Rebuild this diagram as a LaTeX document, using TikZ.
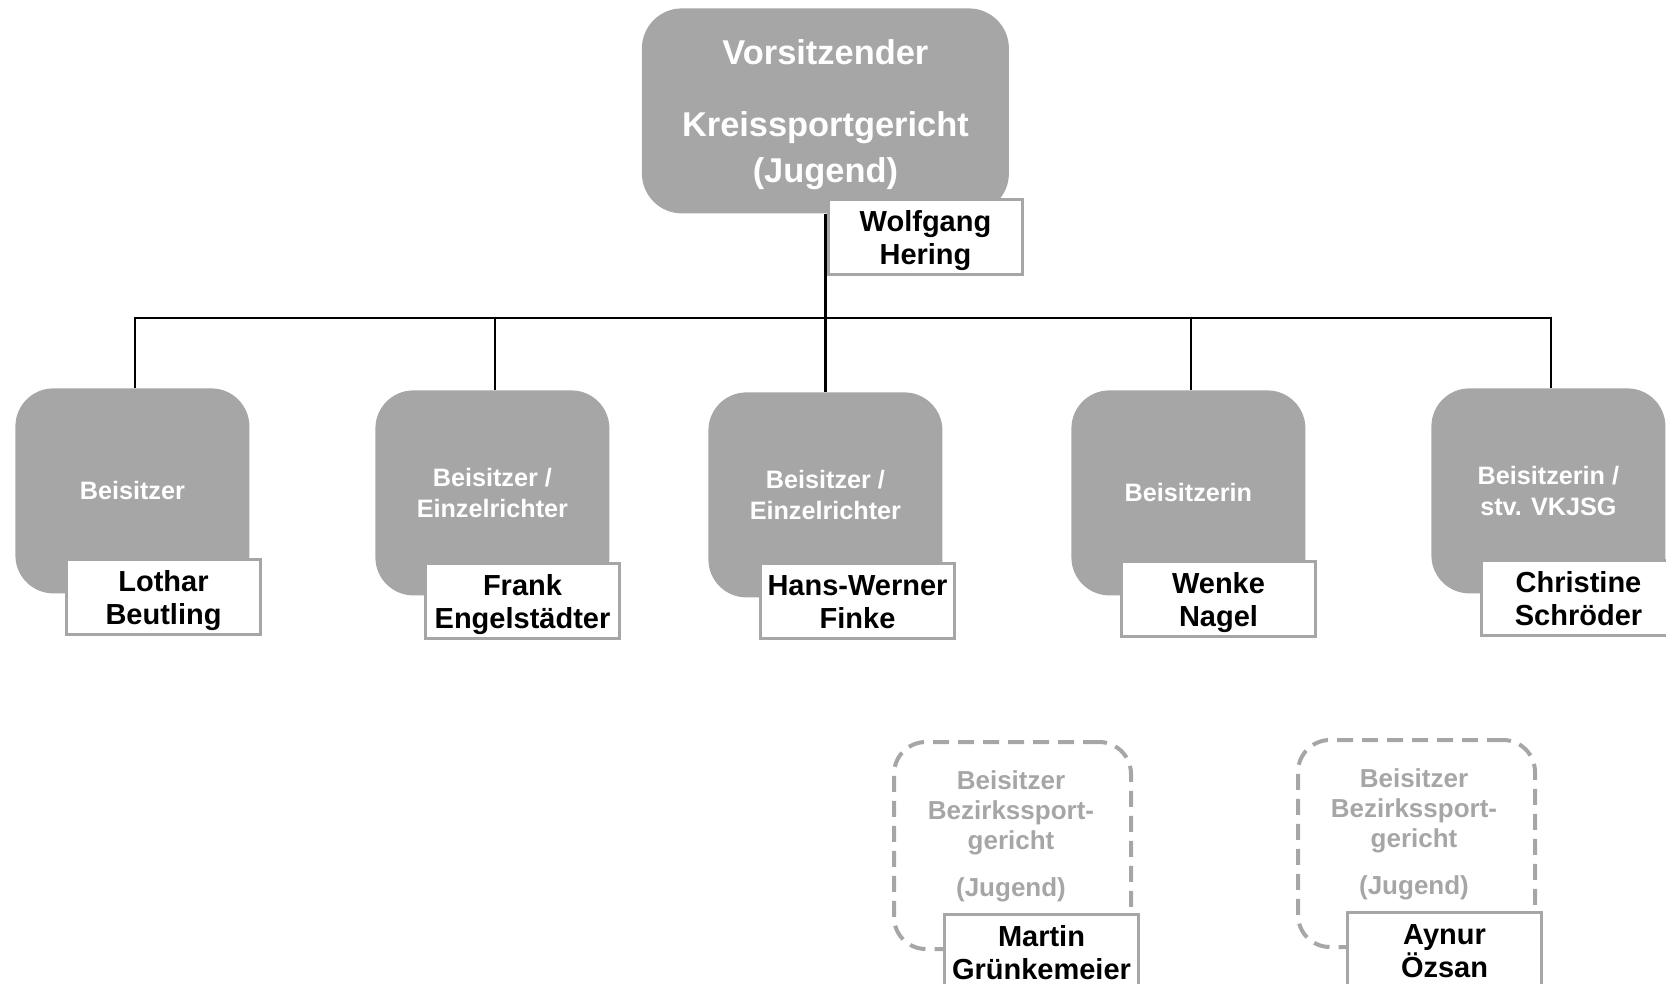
\documentclass[tikz,border=0pt]{standalone}
\usepackage{fontspec}
\setmainfont{Liberation Sans}
\definecolor{boxgray}{HTML}{A6A6A6}
\begin{document}
\begin{tikzpicture}[x=0.5pt,y=-0.5pt,
  topbox/.style={fill=boxgray, rounded corners=20pt, anchor=north west, inner sep=0pt,
    text=white, align=center, minimum width=183.5pt, minimum height=102.5pt,
    font=\bfseries\fontsize{17.2}{23}\selectfont,
    text height=71.7pt, text depth=0pt},
  rolebox/.style={fill=boxgray, rounded corners=19pt, anchor=north west, inner sep=0pt,
    text=white, align=center, minimum width=117pt, minimum height=102.5pt,
    font=\bfseries\fontsize{12.6}{15.5}\selectfont},
  namebox/.style={fill=white, draw=boxgray, line width=1.5pt, anchor=north west, inner sep=0pt,
    text=black, align=center, minimum width=97pt, minimum height=37.5pt,
    font=\bfseries\fontsize{14.5}{16.5}\selectfont,
    text height=27.3pt, text depth=0pt},
  extbox/.style={draw=boxgray, line width=2pt, dash pattern=on 8pt off 4.5pt, rounded corners=16pt,
    anchor=north west, inner sep=0pt, minimum width=118.5pt, minimum height=103.5pt},
  exttext/.style={text=boxgray, align=center, inner sep=0pt,
    font=\bfseries\fontsize{13}{15}\selectfont},
  conn/.style={draw=black, line width=1.25pt}]
\useasboundingbox (0,0) rectangle (1666,984);

% top
\node[topbox] (top) at (641.5,8) {Vorsitzender\\[13pt]Kreissportgericht\\(Jugend)};

% role boxes
\node[rolebox] (b1) at (15,388) {Beisitzer};
\node[rolebox] (b2) at (375,390) {Beisitzer /\\Einzelrichter};
\node[rolebox] (b3) at (708,392) {Beisitzer /\\Einzelrichter};
\node[rolebox] (b4) at (1071,390) {Beisitzerin};
\node[rolebox] (b5) at (1431,388) {Beisitzerin /\\stv. VKJSG};

% connectors
\coordinate (bus) at (0,318);
\draw[conn] (top.south) -- (top.south |- b3.north);
\draw[conn] ([xshift=1.2pt]b1.north) -- ([xshift=1.2pt]b1.north |- bus) -- ([xshift=1.2pt]b5.north |- bus) -- ([xshift=1.2pt]b5.north);
\draw[conn] ([xshift=1.2pt]b2.north) -- ([xshift=1.2pt]b2.north |- bus);
\draw[conn] ([xshift=1.2pt]b4.north) -- ([xshift=1.2pt]b4.north |- bus);

% name labels
\node[namebox] (n0) at (827,198) {Wolfgang\\Hering};
\node[namebox] (n1) at (65,558) {Lothar\\Beutling};
\node[namebox] (n2) at (424,562) {Frank\\Engelstädter};
\node[namebox] (n3) at (759,562) {Hans-Werner\\Finke};
\node[namebox] (n4) at (1120,560) {Wenke\\Nagel};
\node[namebox] (n5) at (1480,559) {Christine\\Schröder};

% external boxes
\node[extbox] (d1) at (892,740) {};
\node[exttext] (d1t) at (1011,836.6) {Beisitzer\\Bezirkssport-\\gericht\\[8.6pt](Jugend)};
\node[extbox] (d2) at (1296,738) {};
\node[exttext] (d2t) at (1414,834.1) {Beisitzer\\Bezirkssport-\\gericht\\[8.6pt](Jugend)};
\node[namebox] (n6) at (943,913) {Martin\\Grünkemeier};
\node[namebox] (n7) at (1346,911) {Aynur\\Özsan};
\end{tikzpicture}
\end{document}
